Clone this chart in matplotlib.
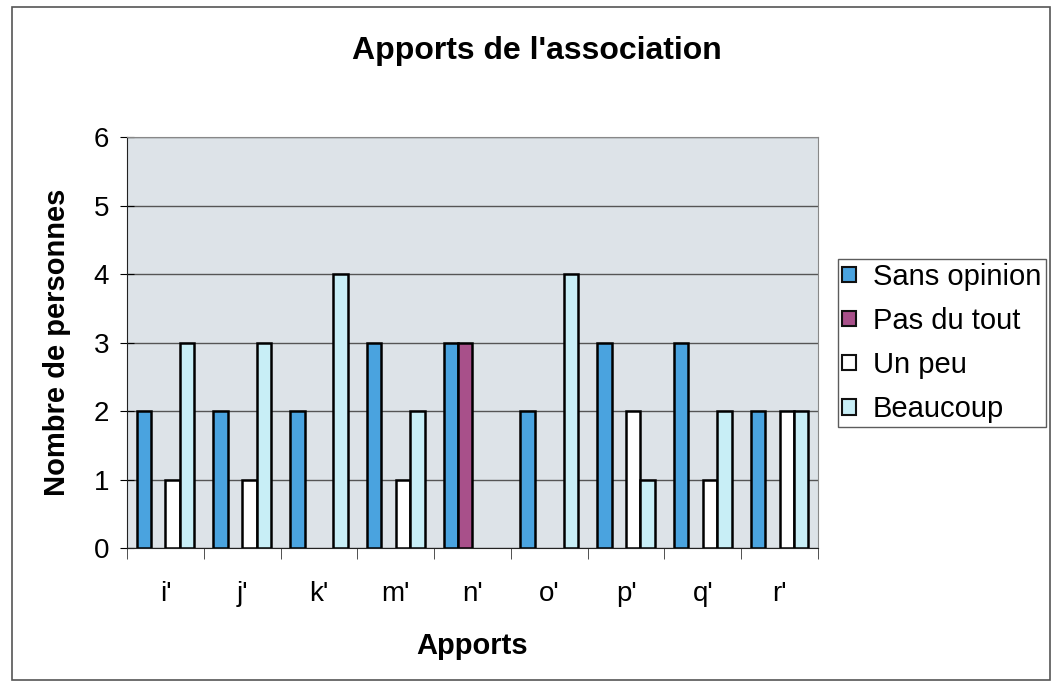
import matplotlib.pyplot as plt
import numpy as np
from matplotlib.patches import Rectangle, Patch

plt.rcParams['font.family'] = ['Liberation Sans', 'DejaVu Sans']

categories = ["i'", "j'", "k'", "m'", "n'", "o'", "p'", "q'", "r'"]
sans_opinion = [2, 2, 2, 3, 3, 2, 3, 3, 2]
pas_du_tout = [0, 0, 0, 0, 3, 0, 0, 0, 0]
un_peu = [1, 1, 0, 1, 0, 0, 2, 1, 2]
beaucoup = [3, 3, 4, 2, 0, 4, 1, 2, 2]

series = [
    ("Sans opinion", sans_opinion, '#4aa3df'),
    ("Pas du tout", pas_du_tout, '#a8508a'),
    ("Un peu", un_peu, '#ffffff'),
    ("Beaucoup", beaucoup, '#c8eef6'),
]

fig = plt.figure(figsize=(10.57, 6.87), dpi=100)
fig.patches.append(Rectangle((12/1057, 1-680/687), (1050-12)/1057, (680-7)/687,
                             transform=fig.transFigure, fill=False,
                             edgecolor='#555555', lw=1.2))
ax = fig.add_axes([127/1057, 1-548/687, (818-127)/1057, (548-137)/687])
ax.set_facecolor('#dde3e8')

x = np.arange(len(categories))
w = 0.188
handles = []
for k, (name, vals, col) in enumerate(series):
    offs = (k - 1.5) * w
    vals = np.array(vals)
    lw = np.where(vals > 0, 1.8, 0)
    ax.bar(x + offs, vals, w, color=col, edgecolor='black', linewidth=lw,
           zorder=3)
    handles.append(Patch(facecolor=col, edgecolor='#111111', lw=1.5, label=name))

ax.set_xlim(-0.5, len(categories) - 0.5)
ax.set_ylim(0, 6)
ax.set_yticks(range(7))
ax.yaxis.grid(True, color='#555555', lw=1, zorder=1)
ax.set_xticks(x)
ax.set_xticklabels(categories, fontsize=20)
ax.set_xticks(np.arange(-0.5, len(categories)), minor=True)
ax.tick_params(axis='x', which='major', length=0, pad=24)
ax.tick_params(axis='x', which='minor', length=8, direction='out', color='#333333')
ax.tick_params(axis='y', labelsize=20, length=10, direction='inout', pad=8)
for s in ['top', 'right']:
    ax.spines[s].set_color('#888888')
ax.spines['left'].set_color('#222222')
ax.spines['bottom'].set_color('#222222')

ax.set_xlabel('Apports', fontsize=21, fontweight='bold', labelpad=18)
ax.set_ylabel('Nombre de personnes', fontsize=21, fontweight='bold', labelpad=16)
fig.text(537/1057, 1 - 51/687, "Apports de l'association",
         ha='center', va='center', fontsize=23, fontweight='bold')

leg = ax.legend(handles=handles, loc='center left',
                bbox_to_anchor=(838/1057, 1 - 343/687),
                bbox_transform=fig.transFigure, fontsize=21, frameon=True,
                fancybox=False, edgecolor='#333333', handlelength=0.45,
                handleheight=0.45, handletextpad=0.6, borderpad=0.15,
                labelspacing=0.55, borderaxespad=0)
leg.get_frame().set_linewidth(1.0)

fig.savefig('out.png', dpi=100)
